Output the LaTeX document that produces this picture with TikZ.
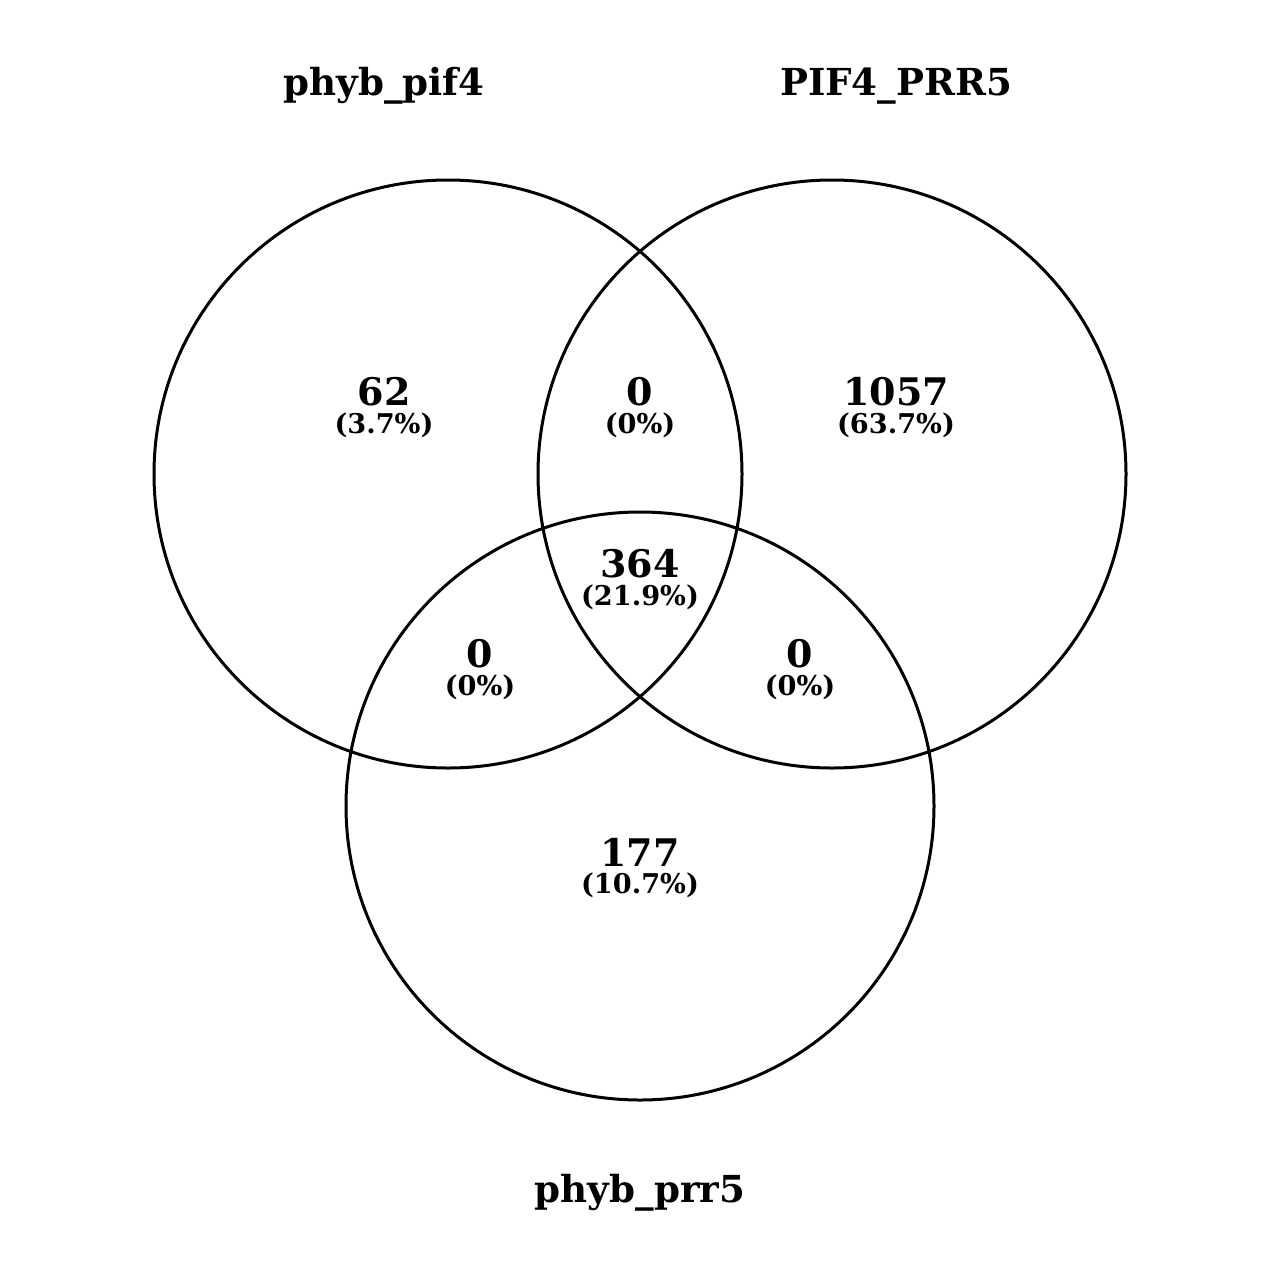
\documentclass[tikz,border=0pt]{standalone}
\usepackage{fontspec}
\setmainfont{DejaVu Serif}
\begin{document}
\begin{tikzpicture}[x=0.5pt,y=-0.5pt,
  ring/.style={draw=black,line width=1.5pt},
  setlabel/.style={font=\bfseries\fontsize{18.6}{20}\selectfont,inner sep=0pt},
  count/.style={font=\bfseries\fontsize{19}{21}\selectfont,inner sep=0pt},
  pct/.style={font=\bfseries\fontsize{13.6}{15}\selectfont,inner sep=0pt}]
\useasboundingbox (0,0) rectangle (1280,1280);
\draw[ring] (448,474) circle[radius=294];
\draw[ring] (832,474) circle[radius=294];
\draw[ring] (640,806) circle[radius=294];
\node[setlabel] (lA) at (384,86) {phyb\_pif4};
\node[setlabel] (lB) at (896,86) {PIF4\_PRR5};
\node[setlabel] (lC) at (640,1193) {phyb\_prr5};
\node[count] (nA) at (384,392) {62};
\node[pct] (pA) at (384,425) {(3.7\%)};
\node[count] (nAB) at (640,392) {0};
\node[pct] (pAB) at (640,425) {(0\%)};
\node[count] (nB) at (896,392) {1057};
\node[pct] (pB) at (896,425) {(63.7\%)};
\node[count] (nABC) at (640,564) {364};
\node[pct] (pABC) at (640,597) {(21.9\%)};
\node[count] (nAC) at (480,654) {0};
\node[pct] (pAC) at (480,687) {(0\%)};
\node[count] (nBC) at (800,654) {0};
\node[pct] (pBC) at (800,687) {(0\%)};
\node[count] (nC) at (640,852) {177};
\node[pct] (pC) at (640,885) {(10.7\%)};
\end{tikzpicture}
\end{document}
